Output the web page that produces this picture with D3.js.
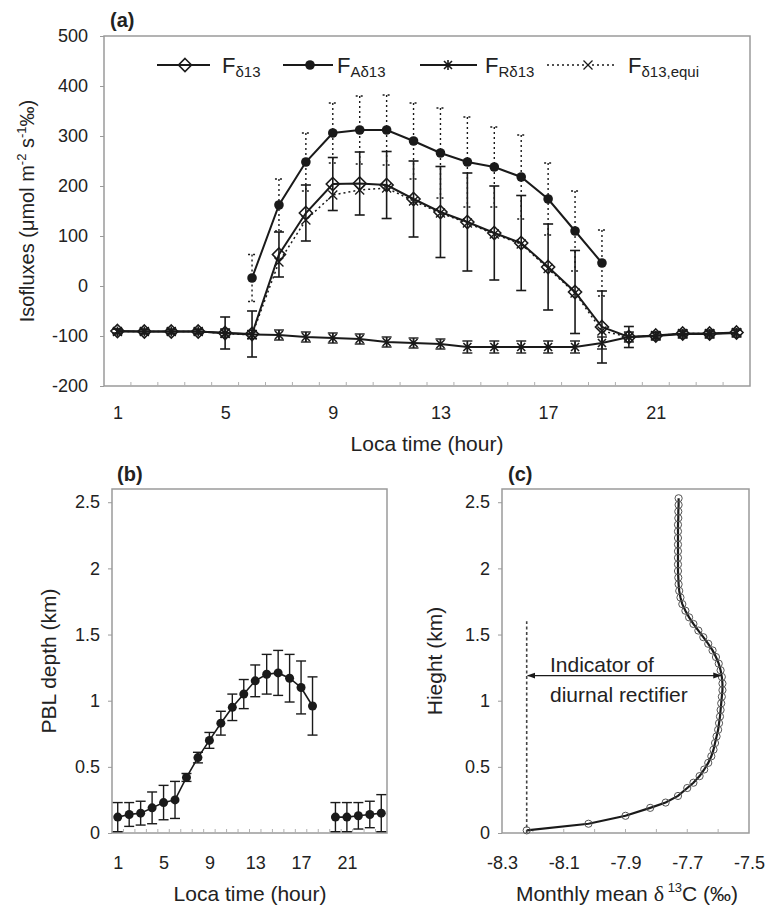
<!DOCTYPE html>
<html>
<head>
<meta charset="UTF-8">
<script src="https://cdn.jsdelivr.net/npm/d3@7"></script>
<style>
  body { margin: 0; background: #fff; }
  svg text { font-family: "Liberation Sans", Arial, sans-serif; fill: #222; }
  .frame { fill: none; stroke: #9a9a9a; stroke-width: 1.5; }
  .tick line { stroke: #9a9a9a; }
</style>
</head>
<body>
<svg id="fig" width="767" height="905"></svg>
<script>
// ---- panel (a): isofluxes by hour
const hours = [1,2,3,4,5,6,7,8,9,10,11,12,13,14,15,16,17,18,19,20,21,22,23,24];
const fD13    = [-90,-91,-91,-91,-94,-96,63,146,204,205,202,174,148,128,106,86,38,-12,-82,-102,-99,-95,-95,-93];
const fD13Err = [4,4,4,4,32,46,45,56,53,63,67,76,91,98,94,95,86,83,72,21,6,5,5,5];
const fA      = [null,null,null,null,null,16,162,248,306,312,312,290,266,248,238,218,174,110,46,null,null,null,null,null];
const fAErr   = [null,null,null,null,null,47,52,58,60,68,70,76,90,90,80,84,72,80,66,null,null,null,null,null];
const fR      = [-91,-91,-91,-91,-94,-97,-98,-102,-104,-106,-112,-114,-116,-122,-122,-122,-122,-122,-114,-102,-100,-96,-96,-94];
const fRErr   = [5,5,5,5,8,8,10,10,10,10,10,10,10,12,12,12,12,12,12,10,8,8,8,8];
const fEqui   = [-91,-91,-91,-91,-95,-98,48,132,182,192,196,170,146,126,104,84,35,-14,-90,-102,-99,-95,-95,-93];
const fluxTicks = [-200,-100,0,100,200,300,400,500];
const hourTicks = [1,5,9,13,17,21];

// ---- panel (b): PBL depth
const pbl    = [0.12,0.14,0.15,0.19,0.23,0.25,0.42,0.57,0.70,0.83,0.95,1.05,1.15,1.20,1.21,1.17,1.10,0.96,null,0.12,0.12,0.13,0.14,0.15];
const pblErr = [0.11,0.09,0.09,0.12,0.13,0.14,0.03,0.04,0.06,0.09,0.10,0.11,0.12,0.15,0.17,0.18,0.20,0.22,null,0.11,0.11,0.10,0.10,0.14];
const kmTicks = [0,0.5,1,1.5,2,2.5];

// ---- panel (c): monthly mean d13C profile
const height = [0.02,0.07,0.13,0.19,0.23,0.28,0.34,0.38,0.43,0.48,0.53,0.58,0.63,0.68,0.73,0.78,0.83,0.88,0.93,0.98,
  1.03,1.08,1.13,1.18,1.23,1.28,1.33,1.38,1.43,1.48,1.53,1.58,1.63,1.68,1.73,1.78,1.83,1.88,1.93,1.98,
  2.03,2.08,2.13,2.18,2.23,2.28,2.33,2.38,2.43,2.48,2.53];
const d13c = [-8.22,-8.02,-7.90,-7.82,-7.77,-7.73,-7.70,-7.68,-7.66,-7.645,-7.632,-7.622,-7.615,-7.61,-7.605,-7.60,-7.597,-7.594,-7.592,-7.59,
  -7.588,-7.586,-7.586,-7.588,-7.592,-7.598,-7.607,-7.618,-7.632,-7.648,-7.664,-7.68,-7.694,-7.706,-7.716,-7.722,-7.726,-7.728,-7.729,-7.73,
  -7.73,-7.73,-7.73,-7.73,-7.73,-7.73,-7.73,-7.729,-7.729,-7.728,-7.728];
const d13Ticks = [-8.3,-8.1,-7.9,-7.7,-7.5];
const rectifier = { base: -8.22, top: 1.6, arrowAt: 1.19, arrowTo: -7.588 };

const svg = d3.select("#fig");
const ink = "#1a1a1a";
const FONT = '"Liberation Sans", Arial, sans-serif';

const diamond = "M0,-6.5L6.5,0L0,6.5L-6.5,0Z";
const asterisk = "M-4,-4L4,4M-4,4L4,-4M0,-5L0,5";
const cross = "M-4.5,-4.5L4.5,4.5M-4.5,4.5L4.5,-4.5";

function frame(x0, y0, x1, y1) {
  svg.append("rect").attr("class", "frame")
    .attr("x", x0).attr("y", y0).attr("width", x1 - x0).attr("height", y1 - y0);
}

function yAxis(scale, x, ticks, fmt, pad) {
  const g = svg.append("g").attr("transform", `translate(${x},0)`)
    .call(d3.axisLeft(scale).tickValues(ticks).tickSize(4).tickPadding(pad).tickFormat(fmt));
  g.select(".domain").remove();
  g.selectAll("text").attr("font-size", 18).style("font-family", FONT).attr("fill", "#222");
}

function xAxis(scale, y, ticks, fmt, minor, pad) {
  const g = svg.append("g").attr("transform", `translate(0,${y})`)
    .call(d3.axisBottom(scale).tickValues(ticks).tickSize(0).tickPadding(pad).tickFormat(fmt));
  g.select(".domain").remove();
  g.selectAll("text").attr("font-size", 18).style("font-family", FONT).attr("fill", "#222");
  svg.append("g").selectAll("line").data(minor).join("line")
    .attr("x1", d => scale(d)).attr("x2", d => scale(d))
    .attr("y1", y).attr("y2", y - 4).attr("stroke", "#b0b0b0");
}

function errBars(x, y, vals, errs, opt) {
  const pts = hours.map((h, i) => ({ h, v: vals[i], e: errs[i] })).filter(d => d.v != null && d.e != null);
  const g = svg.append("g").attr("stroke", opt.color || ink).attr("stroke-width", opt.width || 1.4)
    .attr("stroke-dasharray", opt.dash || null).attr("fill", "none");
  const cw = opt.cap || 5;
  pts.forEach(d => {
    const px = x(d.h), t = y(d.v + d.e), b = y(d.v - d.e);
    g.append("line").attr("x1", px).attr("x2", px).attr("y1", t).attr("y2", b);
    g.append("line").attr("x1", px - cw).attr("x2", px + cw).attr("y1", t).attr("y2", t);
    g.append("line").attr("x1", px - cw).attr("x2", px + cw).attr("y1", b).attr("y2", b);
  });
}

function series(x, y, vals, opt) {
  const pts = hours.map((h, i) => ({ h, v: vals[i] }));
  const line = d3.line().defined(d => d.v != null).x(d => x(d.h)).y(d => y(d.v));
  svg.append("path").datum(pts).attr("d", line).attr("fill", "none")
    .attr("stroke", ink).attr("stroke-width", opt.lw || 2)
    .attr("stroke-dasharray", opt.dash || null);
  const m = svg.append("g").selectAll("g").data(pts.filter(d => d.v != null)).join("g")
    .attr("transform", d => `translate(${x(d.h)},${y(d.v)})`);
  opt.marker(m);
}

const markDiamond = s => s.append("path").attr("d", diamond).attr("fill", "none").attr("stroke", ink).attr("stroke-width", 1.6);
const markDot = s => s.append("circle").attr("r", 4.8).attr("fill", ink);
const markAst = s => s.append("path").attr("d", asterisk).attr("stroke", ink).attr("stroke-width", 1.6).attr("fill", "none");
const markCross = s => s.append("path").attr("d", cross).attr("stroke", ink).attr("stroke-width", 1.3).attr("fill", "none");

// ===================== panel (a)
const xA = d3.scaleLinear().domain([0.5, 24.5]).range([104, 750]);
const yA = d3.scaleLinear().domain([-200, 500]).range([386, 36]);
frame(104, 36, 750, 386);
yAxis(yA, 104, fluxTicks, d => String(d), 12);
xAxis(xA, 386, hourTicks, d => String(d), hours.slice(0, 23).map(h => h + 0.5), 20);

errBars(xA, yA, fA, fAErr, { dash: "2,3", width: 1.4, cap: 4 });
errBars(xA, yA, fD13, fD13Err, { width: 1.6, cap: 5 });
errBars(xA, yA, fR, fRErr, { width: 1.4, cap: 5 });
series(xA, yA, fEqui, { dash: "2,3", lw: 1.5, marker: markCross });
series(xA, yA, fR, { marker: markAst });
series(xA, yA, fD13, { marker: markDiamond });
series(xA, yA, fA, { marker: markDot });

svg.append("text").attr("x", 110).attr("y", 27).attr("font-size", 20).attr("font-weight", "bold").text("(a)");
svg.append("text").attr("x", 427).attr("y", 451).attr("text-anchor", "middle").attr("font-size", 21).text("Loca time (hour)");
const ya = svg.append("text").attr("transform", "translate(34,211) rotate(-90)").attr("text-anchor", "middle").attr("font-size", 20);
ya.append("tspan").text("Isofluxes (\u03bcmol m");
ya.append("tspan").attr("font-size", 13).attr("dy", -8).text("-2");
ya.append("tspan").attr("dy", 8).text(" s");
ya.append("tspan").attr("font-size", 13).attr("dy", -8).text("-1");
ya.append("tspan").attr("dy", 8).text("\u2030)");

// legend
const legend = [
  { x0: 157, x1: 210, mx: 185, tx: 222, sub: "\u03b413", mark: markDiamond, dash: null },
  { x0: 283, x1: 333, mx: 310, tx: 337, sub: "A\u03b413", mark: markDot, dash: null },
  { x0: 420, x1: 477, mx: 448, tx: 485, sub: "R\u03b413", mark: markAst, dash: null },
  { x0: 547, x1: 617, mx: 588, tx: 628, sub: "\u03b413,equi", mark: markCross, dash: "2,3" }
];
legend.forEach(l => {
  svg.append("line").attr("x1", l.x0).attr("x2", l.x1).attr("y1", 65).attr("y2", 65)
    .attr("stroke", ink).attr("stroke-width", l.dash ? 1.5 : 2).attr("stroke-dasharray", l.dash);
  l.mark(svg.append("g").attr("transform", `translate(${l.mx},65)`));
  const t = svg.append("text").attr("x", l.tx).attr("y", 73).attr("font-size", 22);
  t.append("tspan").text("F");
  t.append("tspan").attr("font-size", 15).attr("dy", 4).text(l.sub);
});

// ===================== panel (b)
const xB = d3.scaleLinear().domain([0.5, 24.5]).range([112, 387]);
const yB = d3.scaleLinear().domain([0, 2.6]).range([833, 489]);
frame(112, 489, 387, 833);
yAxis(yB, 112, kmTicks, d => String(d), 8);
xAxis(xB, 833, hourTicks, d => String(d), hours.slice(0, 23).map(h => h + 0.5), 23);
errBars(xB, yB, pbl, pblErr, { width: 1.4, cap: 5 });
series(xB, yB, pbl, { lw: 1.6, marker: s => s.append("circle").attr("r", 4.5).attr("fill", ink) });
svg.append("text").attr("x", 117).attr("y", 481).attr("font-size", 20).attr("font-weight", "bold").text("(b)");
svg.append("text").attr("x", 250).attr("y", 901).attr("text-anchor", "middle").attr("font-size", 21).text("Loca time (hour)");
svg.append("text").attr("transform", "translate(56,661) rotate(-90)").attr("text-anchor", "middle").attr("font-size", 21).text("PBL depth (km)");

// ===================== panel (c)
const xC = d3.scaleLinear().domain([-8.3, -7.5]).range([502, 749]);
const yC = d3.scaleLinear().domain([0, 2.6]).range([833, 489]);
frame(502, 489, 749, 833);
yAxis(yC, 502, kmTicks, d => String(d), 8);
xAxis(xC, 833, d13Ticks, d => d.toFixed(1), [-8.2,-8.1,-8.0,-7.9,-7.8,-7.7,-7.6], 23);

const prof = height.map((h, i) => ({ h, v: d13c[i] }));
svg.append("path").datum(prof)
  .attr("d", d3.line().x(d => xC(d.v)).y(d => yC(d.h)))
  .attr("fill", "none").attr("stroke", ink).attr("stroke-width", 2.2);
svg.append("g").selectAll("circle").data(prof).join("circle")
  .attr("cx", d => xC(d.v)).attr("cy", d => yC(d.h)).attr("r", 3.6)
  .attr("fill", "none").attr("stroke", "#555").attr("stroke-width", 1);

// rectifier indicator
svg.append("line").attr("x1", xC(rectifier.base)).attr("x2", xC(rectifier.base))
  .attr("y1", yC(0)).attr("y2", yC(rectifier.top))
  .attr("stroke", "#444").attr("stroke-width", 1.6).attr("stroke-dasharray", "3,2.5");
const defs = svg.append("defs");
defs.append("marker").attr("id", "ah").attr("viewBox", "0 0 10 10").attr("refX", 9).attr("refY", 5)
  .attr("markerWidth", 7).attr("markerHeight", 7).attr("orient", "auto-start-reverse")
  .append("path").attr("d", "M0,1.5L10,5L0,8.5Z").attr("fill", ink);
svg.append("line").attr("x1", xC(rectifier.base) + 1).attr("x2", xC(rectifier.arrowTo) - 1)
  .attr("y1", yC(rectifier.arrowAt)).attr("y2", yC(rectifier.arrowAt))
  .attr("stroke", ink).attr("stroke-width", 1.2)
  .attr("marker-start", "url(#ah)").attr("marker-end", "url(#ah)");
svg.append("text").attr("x", 550).attr("y", 672).attr("font-size", 21).text("Indicator of");
svg.append("text").attr("x", 550).attr("y", 702).attr("font-size", 21).text("diurnal rectifier");

svg.append("text").attr("x", 508).attr("y", 481).attr("font-size", 20).attr("font-weight", "bold").text("(c)");
const xc = svg.append("text").attr("x", 627).attr("y", 901).attr("text-anchor", "middle").attr("font-size", 21);
xc.append("tspan").text("Monthly mean ");
xc.append("tspan").style("font-family", '"Liberation Serif", serif').attr("font-size", 22).text("\u03b4");
xc.append("tspan").attr("font-size", 13).attr("dy", -9).text(" 13");
xc.append("tspan").attr("dy", 9).text("C (\u2030)");
svg.append("text").attr("transform", "translate(442,661) rotate(-90)").attr("text-anchor", "middle").attr("font-size", 21).text("Hieght (km)");
</script>
</body>
</html>
